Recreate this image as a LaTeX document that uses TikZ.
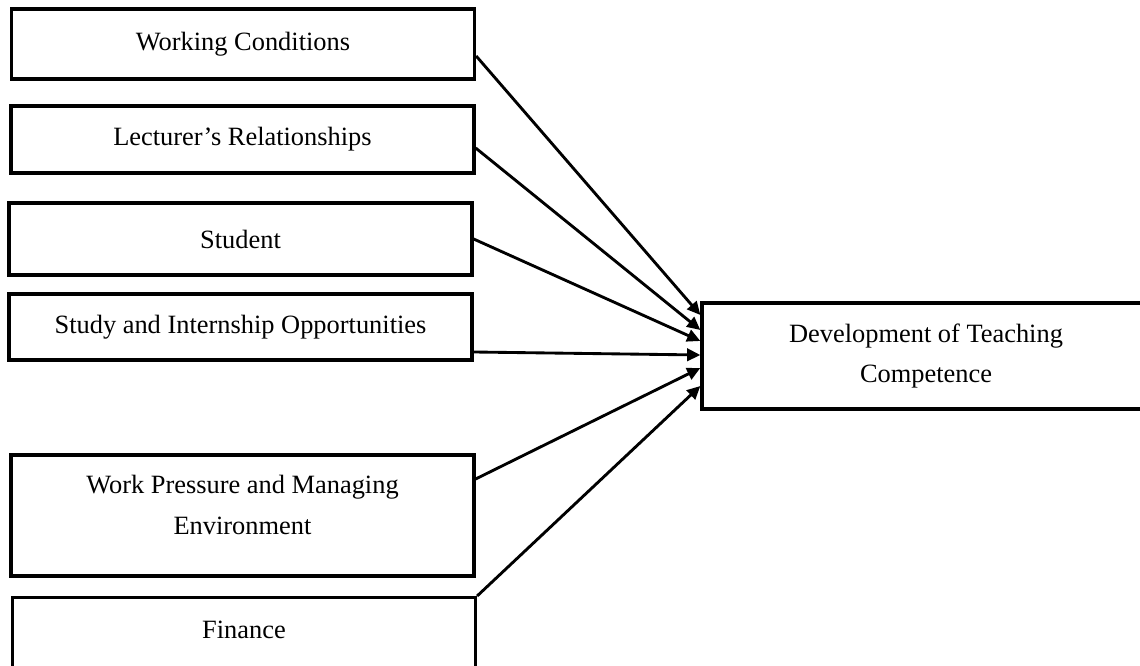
\documentclass[tikz,border=0pt]{standalone}
\usepackage{fontspec}
\setmainfont{Liberation Serif}
\usetikzlibrary{arrows.meta,positioning}
\newcommand{\pxu}{0.4545pt}

\begin{document}
\begin{tikzpicture}[
    x=\pxu, y=-\pxu,
    factor/.style={rectangle, draw=black, line width=1.5pt, minimum width=463*\pxu, align=center, font=\fontsize{12}{18.5}\selectfont},
    outcome/.style={rectangle, draw=black, line width=1.5pt, minimum width=448*\pxu, minimum height=106*\pxu, align=center, font=\fontsize{12}{18.5}\selectfont},
    arrow/.style={-{Triangle[length=6pt, width=5.6pt]}, line width=1.3pt}
]
\useasboundingbox (0,0) rectangle (1140,666);
\clip (0,0) rectangle (1140,666);

% Factors
\node[factor, minimum height=70*\pxu] (wc) at (243,44) {Working Conditions};
\node[factor, minimum height=67*\pxu] (lr) at (242.5,139.5) {Lecturer's Relationships};
\node[factor, minimum height=72*\pxu] (st) at (240.5,239) {Student};
\node[factor, minimum height=66*\pxu] (si) at (240.5,327) {Study and Internship Opportunities};
\node[factor, minimum height=121*\pxu, text depth=10pt] (wp) at (242.5,515.5) {Work Pressure and Managing\\Environment};
\node[factor, anchor=north, text height=8pt, text depth=60pt, inner ysep=10.6pt] (fin) at (244,596) {Finance};

% Outcome
\node[outcome] (dev) at (926,356) {Development of Teaching\\Competence};

% Connections
\draw[arrow] (wc.east |- 0,56) -- (dev.west |- 0,315);
\draw[arrow] (lr.east |- 0,148) -- (dev.west |- 0,330);
\draw[arrow] (st.east |- 0,239) -- (dev.west |- 0,341);
\draw[arrow] (si.east |- 0,352) -- (dev.west |- 0,355);
\draw[arrow] (wp.east |- 0,479) -- (dev.west |- 0,368);
\draw[arrow] (fin.north east) -- (dev.west |- 0,386);

\end{tikzpicture}
\end{document}
